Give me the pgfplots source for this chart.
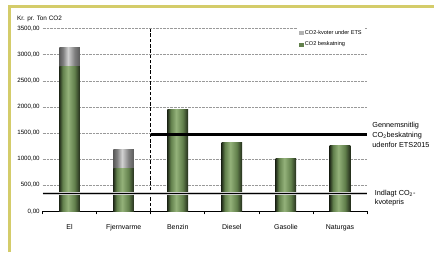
\documentclass[border=0pt]{standalone}
\usepackage{fontspec}
\setmainfont{Liberation Sans}
\usepackage{pgfplots}
\pgfplotsset{compat=1.18}
\definecolor{framey}{HTML}{D4CC6A}
\definecolor{gdark}{HTML}{222C1A}
\definecolor{glight}{HTML}{94B27A}
\definecolor{gmid}{HTML}{62804C}
\definecolor{kdark}{HTML}{5A5A5A}
\definecolor{klight}{HTML}{D2D2D2}
\pgfdeclarehorizontalshading{greenbar}{100bp}{color(0bp)=(gdark); color(25bp)=(gdark); color(33bp)=(gmid); color(46bp)=(glight); color(62bp)=(gmid); color(75bp)=(gdark); color(100bp)=(gdark)}
\pgfdeclarehorizontalshading{graybar}{100bp}{color(0bp)=(kdark); color(25bp)=(kdark); color(34bp)=(gray); color(46bp)=(klight); color(62bp)=(gray); color(75bp)=(kdark); color(100bp)=(kdark)}
\pgfplotsset{
  gbar/.style={ybar, bar width=20.7pt, bar shift=0pt, draw=none, shading=greenbar, forget plot},
  kbar/.style={ybar, bar width=20.7pt, bar shift=0pt, draw=none, shading=graybar, forget plot},
}
\begin{document}
\begin{tikzpicture}[x=1pt,y=1pt]
\path (0,0) rectangle (435,253);
\draw[framey, line width=3pt] (9.5,0) -- (9.5,246.5) -- (435,246.5);
\begin{axis}[
  at={(42.7pt,41pt)}, anchor=south west,
  scale only axis, width=325.6pt, height=183.3pt,
  xmin=-0.5, xmax=5.5, ymin=0, ymax=3500,
  axis lines*=left,
  y axis line style={draw=none},
  x axis line style={black, line width=0.8pt},
  ytick={0,500,...,3500},
  ymajorgrids,
  grid style={densely dotted, gray!80, line width=0.5pt},
  xtick={0,...,5},
  xticklabels={El,Fjernvarme,Benzin,Diesel,Gasolie,Naturgas},
  minor xtick={-0.5,0.5,...,5.5},
  major tick length=0pt,
  minor tick length=3pt,
  tick align=outside,
  minor tick style={black, line width=0.6pt},
  xticklabel style={font=\fontsize{7}{8}\selectfont, inner sep=0pt, yshift=-13pt},
  yticklabel style={font=\fontsize{6.2}{7}\selectfont, inner sep=0pt, xshift=-2.7pt},
  /pgf/number format/.cd, fixed, fixed zerofill, precision=2, use comma, 1000 sep={}, assume math mode=true,
  /pgfplots/.cd,
  legend style={at={(0.785,1.012)}, anchor=north west, draw=none, fill=white,
    font=\fontsize{5.6}{6.5}\selectfont, inner sep=1.5pt, row sep=2.3pt,
    /tikz/every even column/.append style={column sep=1pt}},
  legend cell align=left,
]
% totals (grey = CO2-kvoter on top of the green part)
\addplot[kbar] coordinates {(0,3130)};
\addplot[kbar] coordinates {(1,1187)};
% green part (CO2 beskatning)
\addplot[gbar] coordinates {(0,2775)};
\addplot[gbar] coordinates {(1,822)};
\addplot[gbar] coordinates {(2,1950)};
\addplot[gbar] coordinates {(3,1320)};
\addplot[gbar] coordinates {(4,1015)};
\addplot[gbar] coordinates {(5,1262)};
\addplot[sharp plot, forget plot, black, line width=0.8pt, dash pattern=on 3.5pt off 1.8pt]
  coordinates {(1.5,0) (1.5,3500)};
\addplot[sharp plot, forget plot, gray!40, line width=3.3pt] coordinates {(-0.5,345) (5.5,345)};
\addplot[sharp plot, forget plot, black, line width=1.3pt] coordinates {(-0.5,345) (5.5,345)};
\addplot[sharp plot, forget plot, black, line width=3pt] coordinates {(1.5,1475) (5.5,1475)};
\addlegendimage{legend image code/.code={\fill[gray!60] (0pt,-1.8pt) rectangle (3.6pt,1.8pt);}}
\addlegendentry{CO2-kvoter under ETS}
\addlegendimage{legend image code/.code={\fill[gmid] (0pt,-1.8pt) rectangle (3.6pt,1.8pt);}}
\addlegendentry{CO2 beskatning}
\end{axis}
\node[anchor=west, inner sep=0pt, font=\fontsize{6.4}{7}\selectfont] at (17,234) {Kr. pr. Ton CO2};
\node[anchor=north west, inner sep=0pt, align=left, font=\fontsize{7.3}{10}\selectfont] at (373.5,130.5)
  {Gennemsnitlig\\CO\textsubscript{2}beskatning\\udenfor ETS2015};
\node[anchor=north west, inner sep=0pt, align=left, font=\fontsize{7.3}{9}\selectfont] at (376,62.5)
  {Indlagt CO\textsubscript{2}-\\kvotepris};
\end{tikzpicture}
\end{document}
